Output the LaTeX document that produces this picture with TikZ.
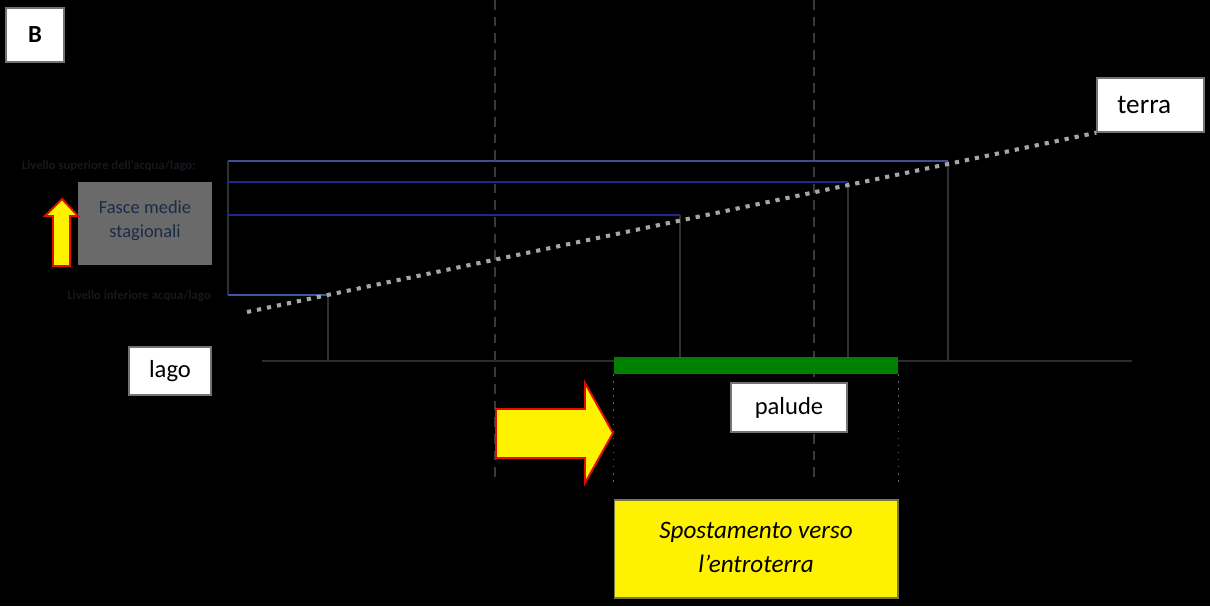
\documentclass[tikz,border=0pt]{standalone}
\usepackage{fontspec}
\setmainfont{Carlito}
\definecolor{dashgray}{HTML}{3A3A3A}
\definecolor{stemgray}{HTML}{303030}
\definecolor{basegray}{HTML}{2C2C2C}
\definecolor{dotgray}{HTML}{A6A6A6}
\definecolor{bluetop}{HTML}{3F4E8E}
\definecolor{bluemid}{HTML}{25258E}
\definecolor{bluelow}{HTML}{3A56A6}
\definecolor{marsh}{HTML}{008000}
\definecolor{boxgray}{HTML}{6A6A6A}
\definecolor{fascetext}{HTML}{1C2A48}
\definecolor{tinytext}{HTML}{17171E}
\definecolor{arrowred}{HTML}{E01000}
\tikzset{
  whitebox/.style={draw=black!55, line width=0.8pt, fill=white, inner sep=0pt, font=\fontsize{14}{17}\selectfont},
  stemline/.style={draw=stemgray, line width=1.1pt},
  levelline/.style={line width=1.5pt},
  guideline/.style={draw=dashgray, line width=1.4pt, dash pattern=on 5.5pt off 4pt},
  thinguide/.style={draw=dashgray!80, line width=0.6pt, dash pattern=on 1pt off 3pt},
  slope/.style={draw=dotgray, line width=2.3pt, dash pattern=on 2.4pt off 3.4pt},
  bigarrow/.style={fill=yellow, draw=arrowred, line width=1.1pt, line join=miter},
  tinylabel/.style={text=tinytext, font=\fontsize{7.2}{8}\selectfont\bfseries, inner sep=0pt}
}
\begin{document}
\begin{tikzpicture}[x=0.02cm,y=-0.02cm]
\fill[black] (0,0) rectangle (1210,606);
\useasboundingbox (0,0) rectangle (1210,606);

% vertical dashed guides
\coordinate (g1t) at (495,0);   \coordinate (g1b) at (495,483);
\coordinate (g2t) at (814,0);   \coordinate (g2b) at (814,483);
\draw[guideline] (g1t) -- (g1b);
\draw[guideline] (g2t) -- (g2b);

% baseline
\coordinate (bl) at (262,361); \coordinate (br) at (1132,361);
\draw[draw=basegray, line width=1.6pt] (bl) -- (br);

% left axis
\coordinate (ax1) at (228,161); \coordinate (ax2) at (228,295);
\draw[stemline] (ax1) -- (ax2);

% level lines with their end points
\coordinate (l1a) at (228,161); \coordinate (l1b) at (948,161);
\coordinate (l2a) at (228,182); \coordinate (l2b) at (848,182);
\coordinate (l3a) at (228,215); \coordinate (l3b) at (680,215);
\coordinate (l4a) at (228,295); \coordinate (l4b) at (328,295);
\coordinate (s1) at (948,361); \coordinate (s2) at (848,361);
\coordinate (s3) at (680,361); \coordinate (s4) at (328,361);
\draw[stemline] (l1b) -- (s1);
\draw[stemline] (l2b) -- (s2);
\draw[stemline] (l3b) -- (s3);
\draw[stemline] (l4b) -- (s4);
\draw[levelline, draw=bluetop] (l1a) -- (l1b);
\draw[levelline, draw=bluemid] (l2a) -- (l2b);
\draw[levelline, draw=bluemid] (l3a) -- (l3b);
\draw[levelline, draw=bluelow] (l4a) -- (l4b);

% tiny labels
\node[tinylabel, anchor=east] (lsup) at (196,166) {Livello superiore dell'acqua/lago:};
\node[tinylabel, anchor=east] (linf) at (211,296) {Livello inferiore acqua/lago};

% boxes
\node[draw=black!55, line width=0.8pt, fill=white, inner sep=0pt, minimum width=1.16cm, minimum height=1.08cm, font=\fontsize{14}{16}\selectfont\bfseries] (B) at (35,35) {B};
\node[whitebox, minimum width=2.14cm, minimum height=1.08cm, font=\fontsize{15.5}{18}\selectfont] (terra) at (1150.5,105) {\hspace*{-0.25cm}terra};
\node[fill=boxgray, inner sep=0pt, minimum width=2.68cm, minimum height=1.66cm, text=fascetext, font=\fontsize{10.5}{14}\selectfont] (fasce) at (145,223.5) {\raisebox{0.51cm}{\begin{tabular}{@{}c@{}}Fasce medie\\[0pt]stagionali\end{tabular}}};
\node[whitebox, minimum width=1.64cm, minimum height=0.96cm] (lago) at (170,371) {lago};
\node[whitebox, minimum width=2.32cm, minimum height=0.98cm] (palude) at (789,407.5) {palude};
\node[fill=marsh, inner sep=0pt, minimum width=5.68cm, minimum height=0.34cm] (bar) at (756,365.5) {};
\node[fill=yellow, draw=black!60!yellow, line width=0.6pt, inner sep=0pt, minimum width=5.68cm, minimum height=1.96cm, font=\fontsize{14.3}{19}\selectfont\itshape] (shift) at (756,549) {\raisebox{0.32cm}{\begin{tabular}{@{}c@{}}Spostamento verso\\[0pt]l’entroterra\end{tabular}}};

% slope of the land
\coordinate (slopeA) at (247,312);
\draw[slope] (slopeA) -- (terra.south west);

% thin dotted edges of the marsh zone
\draw[thinguide] (bar.south west) -- (bar.south west |- 0,485);
\draw[thinguide] (bar.south east) -- (bar.south east |- 0,485);

% arrows
\draw[bigarrow] (62,199) -- (78,216) -- (70,216) -- (70,266) -- (53,266) -- (53,216) -- (45,216) -- cycle;
\draw[bigarrow] (496,409) -- (585,409) -- (585,383) -- (613,433) -- (585,483) -- (585,458) -- (496,458) -- cycle;
\end{tikzpicture}
\end{document}
